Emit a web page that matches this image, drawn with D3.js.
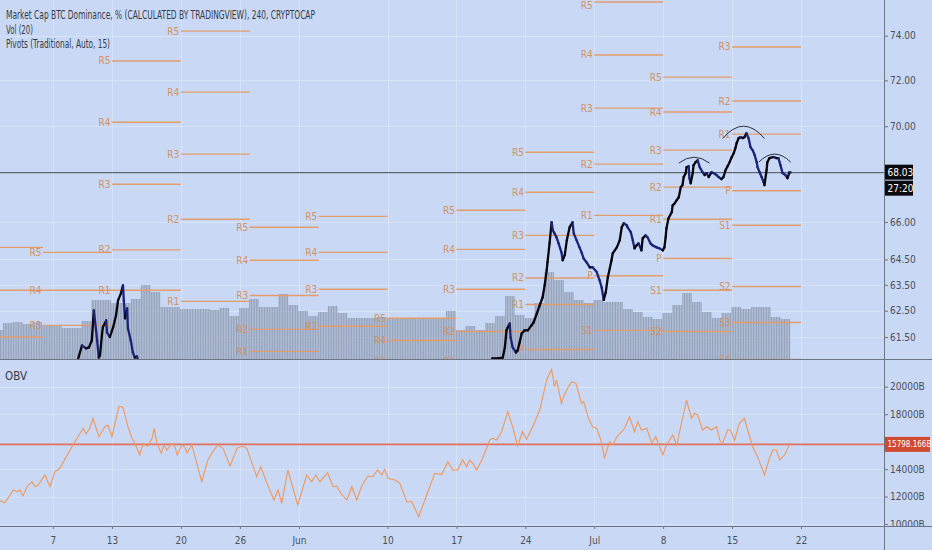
<!DOCTYPE html>
<html>
<head>
<meta charset="utf-8">
<script src="https://cdn.jsdelivr.net/npm/d3@7"></script>
<style>
html, body { margin: 0; padding: 0; background: #c9d9f5; }
svg { display: block; }
text { font-family: "Liberation Sans Narrow", "DejaVu Sans Condensed", "Roboto Condensed", sans-serif; }
</style>
</head>
<body>
<div id="chart"></div>
<script>

// ---- data ----
const xTickDates = ["2019-05-07", "2019-05-13", "2019-05-20", "2019-05-26", "2019-06-01", "2019-06-10",
    "2019-06-17", "2019-06-24", "2019-07-01", "2019-07-08", "2019-07-15", "2019-07-22"];
const xTickLabels = ["7", "13", "20", "26", "Jun", "10", "17", "24", "Jul", "8", "15", "22"];
const priceTicks = [61.5, 62.5, 63.5, 64.5, 66, 70, 72, 74];
const obvTicks = [10000, 12000, 14000, 18000, 20000];

const lastPrice = 68.03;
const countdown = "27:20";
const lastObv = 15798.166;

// daily volume (arbitrary units), each day drawn as six 4h bars
const volumeStart = "2019-05-01";
const dailyVolume = [29, 36, 37, 35, 37, 34, 33, 31, 31, 38, 59, 59, 56, 56, 60, 74, 67, 52, 52, 50,
    50, 50, 49, 51, 43, 51, 60, 52, 52, 65, 54, 48, 43, 47, 53, 46, 41, 41, 41, 42,
    41, 40, 41, 41, 40, 41, 48, 29, 33, 29, 36, 43, 63, 44, 41, 56, 87, 79, 67, 59,
    56, 59, 57, 57, 50, 47, 42, 40, 46, 54, 66, 57, 47, 41, 46, 52, 50, 52, 52, 42, 40];

// weekly pivots (Traditional), null where the level is out of view
const pivotWeeks = ["2019-04-29", "2019-05-06", "2019-05-13", "2019-05-20", "2019-05-27", "2019-06-03",
    "2019-06-10", "2019-06-17", "2019-06-24", "2019-07-01", "2019-07-08", "2019-07-15"];
const pivotR5 = [64.98, 64.78, 72.86, 74.21, 65.79, 66.23, 62.21, 66.48, 68.89, 75.55, 72.14, null];
const pivotR4 = [63.29, 63.29, 70.17, 71.48, 64.47, 64.78, 61.37, 64.90, 67.22, 73.13, 70.61, null];
const pivotR3 = [61.50, 61.94, 67.55, 68.81, 63.09, 63.33, 60.58, 63.33, 65.46, 70.78, 68.98, 73.49];
const pivotR2 = [null, null, 64.88, 66.11, 61.79, 61.91, null, 61.71, 63.77, 68.39, 67.43, 71.09];
const pivotR1 = [null, null, 63.29, 62.86, 60.96, null, null, 60.58, 62.74, 66.27, 66.11, 69.66];
const pivotP  = [null, null, null, null, null, null, null, null, 61.03, 63.86, 64.54, 67.28];
const pivotS1 = [null, null, null, null, null, null, null, null, null, 61.75, 63.29, 65.87];
const pivotS2 = [null, null, null, null, null, null, null, null, null, null, 61.71, 63.44];
const pivotS3 = [null, null, null, null, null, null, null, null, null, null, null, 62.05];
const pivotS4 = [null, null, null, null, null, null, null, null, null, null, null, 60.66];

// BTC dominance, 4h closes where the price is inside the visible range
const priceMay = [
    ["2019-05-09T11:00", 60.54], ["2019-05-09T23:00", 61.18], ["2019-05-10T09:00", 61.07],
    ["2019-05-10T16:00", 61.11], ["2019-05-10T23:00", 61.37], ["2019-05-11T02:00", 62.05],
    ["2019-05-11T04:00", 62.51], ["2019-05-11T12:00", 61.37], ["2019-05-11T16:00", 60.73],
    ["2019-05-11T19:00", 60.81], ["2019-05-12T00:00", 61.64], ["2019-05-12T02:00", 61.87],
    ["2019-05-12T10:00", 62.13], ["2019-05-12T12:00", 61.67], ["2019-05-12T19:00", 61.50],
    ["2019-05-13T03:00", 61.87], ["2019-05-13T10:00", 62.32], ["2019-05-13T15:00", 62.90],
    ["2019-05-13T22:00", 63.17], ["2019-05-14T03:00", 63.48], ["2019-05-14T05:00", 62.90],
    ["2019-05-14T08:00", 62.21], ["2019-05-14T13:00", 62.59], ["2019-05-14T15:00", 61.83],
    ["2019-05-14T22:00", 61.37], ["2019-05-15T03:00", 60.92], ["2019-05-15T08:00", 60.73],
    ["2019-05-15T13:00", 60.77], ["2019-05-15T18:00", 60.50]
];

const priceJune = [
    ["2019-06-20T09:00", 60.50], ["2019-06-20T16:00", 60.70], ["2019-06-21T05:00", 60.70],
    ["2019-06-21T17:00", 60.73], ["2019-06-21T22:00", 61.11], ["2019-06-22T02:00", 61.75],
    ["2019-06-22T05:00", 61.86], ["2019-06-22T10:00", 62.01], ["2019-06-22T12:00", 61.48],
    ["2019-06-22T17:00", 61.11], ["2019-06-23T01:00", 60.92], ["2019-06-23T05:00", 60.99],
    ["2019-06-23T10:00", 61.29], ["2019-06-23T15:00", 61.63], ["2019-06-23T22:00", 61.75],
    ["2019-06-24T06:00", 61.75], ["2019-06-24T15:00", 61.94], ["2019-06-24T20:00", 62.05],
    ["2019-06-25T04:00", 62.40], ["2019-06-25T11:00", 62.71], ["2019-06-25T18:00", 63.01],
    ["2019-06-25T23:00", 63.48], ["2019-06-26T04:00", 64.07], ["2019-06-26T06:00", 64.39],
    ["2019-06-26T11:00", 65.14], ["2019-06-26T16:00", 65.99], ["2019-06-26T19:00", 65.67],
    ["2019-06-26T23:00", 65.54], ["2019-06-27T04:00", 65.38], ["2019-06-27T09:00", 65.14],
    ["2019-06-27T16:00", 64.78], ["2019-06-27T19:00", 64.47], ["2019-06-28T00:00", 64.67],
    ["2019-06-28T05:00", 65.26], ["2019-06-28T12:00", 65.79], ["2019-06-28T19:00", 65.99],
    ["2019-06-28T22:00", 65.54], ["2019-06-29T05:00", 65.26], ["2019-06-29T12:00", 64.98],
    ["2019-06-29T17:00", 64.78], ["2019-06-29T22:00", 64.54], ["2019-06-30T05:00", 64.39],
    ["2019-06-30T13:00", 64.19], ["2019-06-30T20:00", 64.19], ["2019-07-01T06:00", 64.00],
    ["2019-07-01T13:00", 63.68], ["2019-07-01T18:00", 63.40], ["2019-07-01T23:00", 62.92],
    ["2019-07-02T04:00", 63.21], ["2019-07-02T09:00", 63.79], ["2019-07-02T18:00", 64.47],
    ["2019-07-02T21:00", 64.74], ["2019-07-03T07:00", 64.98], ["2019-07-03T14:00", 65.26],
    ["2019-07-03T19:00", 65.79], ["2019-07-04T00:00", 65.95], ["2019-07-04T07:00", 65.87],
    ["2019-07-04T09:00", 65.79], ["2019-07-04T17:00", 65.59], ["2019-07-04T22:00", 65.26],
    ["2019-07-05T02:00", 64.94], ["2019-07-05T07:00", 65.06], ["2019-07-05T12:00", 65.14],
    ["2019-07-05T19:00", 64.86], ["2019-07-05T22:00", 65.34], ["2019-07-06T05:00", 65.46],
    ["2019-07-06T10:00", 65.38], ["2019-07-06T17:00", 65.14], ["2019-07-06T22:00", 65.06],
    ["2019-07-07T08:00", 64.98], ["2019-07-07T15:00", 64.94], ["2019-07-07T23:00", 64.86],
    ["2019-07-08T03:00", 64.98], ["2019-07-08T06:00", 65.38], ["2019-07-08T08:00", 65.75],
    ["2019-07-08T13:00", 66.15], ["2019-07-08T21:00", 66.40], ["2019-07-08T23:00", 66.68],
    ["2019-07-09T04:00", 66.76], ["2019-07-09T09:00", 66.89], ["2019-07-09T14:00", 67.01],
    ["2019-07-09T19:00", 67.43], ["2019-07-09T23:00", 67.51], ["2019-07-10T02:00", 67.85],
    ["2019-07-10T07:00", 68.01], ["2019-07-10T09:00", 68.26], ["2019-07-10T14:00", 68.30],
    ["2019-07-10T16:00", 67.80], ["2019-07-10T19:00", 67.59], ["2019-07-11T00:00", 68.01],
    ["2019-07-11T02:00", 68.34], ["2019-07-11T07:00", 68.47], ["2019-07-11T12:00", 68.55],
    ["2019-07-11T17:00", 68.26], ["2019-07-12T00:00", 68.05], ["2019-07-12T05:00", 67.93],
    ["2019-07-12T10:00", 68.01], ["2019-07-12T15:00", 67.85], ["2019-07-12T22:00", 68.05],
    ["2019-07-13T03:00", 68.01], ["2019-07-13T10:00", 67.93], ["2019-07-13T15:00", 67.85],
    ["2019-07-13T22:00", 67.76], ["2019-07-14T03:00", 67.85], ["2019-07-14T08:00", 68.13],
    ["2019-07-14T13:00", 68.30], ["2019-07-14T18:00", 68.47], ["2019-07-14T23:00", 68.68],
    ["2019-07-15T04:00", 68.85], ["2019-07-15T08:00", 69.06], ["2019-07-15T11:00", 69.27],
    ["2019-07-15T16:00", 69.49], ["2019-07-15T21:00", 69.53], ["2019-07-16T02:00", 69.49],
    ["2019-07-16T06:00", 69.53], ["2019-07-16T11:00", 69.70], ["2019-07-16T16:00", 69.49],
    ["2019-07-16T21:00", 69.10], ["2019-07-17T02:00", 68.98], ["2019-07-17T07:00", 68.77],
    ["2019-07-17T12:00", 68.47], ["2019-07-17T14:00", 68.26], ["2019-07-17T19:00", 68.05],
    ["2019-07-18T00:00", 67.85], ["2019-07-18T05:00", 67.63], ["2019-07-18T07:00", 67.51],
    ["2019-07-18T12:00", 68.13], ["2019-07-18T14:00", 68.47], ["2019-07-18T19:00", 68.64],
    ["2019-07-19T03:00", 68.68], ["2019-07-19T07:00", 68.68], ["2019-07-19T12:00", 68.64],
    ["2019-07-19T17:00", 68.64], ["2019-07-19T22:00", 68.34], ["2019-07-20T03:00", 68.01],
    ["2019-07-20T10:00", 67.93], ["2019-07-20T15:00", 67.80], ["2019-07-20T20:00", 68.05],
    ["2019-07-20T23:00", 68.03]
];

// On Balance Volume, in billions
const obvSeries = [
    ["2019-05-01T08:00", 11800], ["2019-05-02T03:00", 11551], ["2019-05-02T16:00", 12112],
    ["2019-05-02T23:00", 12476], ["2019-05-03T09:00", 12352], ["2019-05-03T16:00", 12476],
    ["2019-05-03T23:00", 12039], ["2019-05-04T09:00", 12717], ["2019-05-04T21:00", 13081],
    ["2019-05-05T05:00", 12717], ["2019-05-05T12:00", 12840], ["2019-05-06T05:00", 13569],
    ["2019-05-06T17:00", 12717], ["2019-05-07T05:00", 13809], ["2019-05-07T17:00", 14056],
    ["2019-05-09T01:00", 15754], ["2019-05-10T02:00", 16970], ["2019-05-10T09:00", 16555],
    ["2019-05-10T18:00", 16970], ["2019-05-11T02:00", 17698], ["2019-05-11T16:00", 16358],
    ["2019-05-12T07:00", 17086], ["2019-05-12T14:00", 17210], ["2019-05-13T00:00", 16358],
    ["2019-05-13T17:00", 18543], ["2019-05-14T01:00", 18543], ["2019-05-14T05:00", 18303],
    ["2019-05-14T15:00", 17086], ["2019-05-15T01:00", 16242], ["2019-05-15T08:00", 15877],
    ["2019-05-15T13:00", 15513], ["2019-05-15T20:00", 15025], ["2019-05-16T04:00", 15877],
    ["2019-05-16T09:00", 15754], ["2019-05-16T16:00", 15681], ["2019-05-17T02:00", 16242],
    ["2019-05-17T07:00", 16970], ["2019-05-17T14:00", 15877], ["2019-05-18T00:00", 15149],
    ["2019-05-18T07:00", 15754], ["2019-05-18T14:00", 15389], ["2019-05-19T02:00", 15877],
    ["2019-05-19T10:00", 15630], ["2019-05-19T15:00", 15025], ["2019-05-20T03:00", 15754],
    ["2019-05-20T10:00", 15586], ["2019-05-20T15:00", 15193], ["2019-05-21T03:00", 15754],
    ["2019-05-21T15:00", 14420], ["2019-05-22T03:00", 13081], ["2019-05-22T18:00", 14661],
    ["2019-05-23T06:00", 15266], ["2019-05-23T18:00", 15754], ["2019-05-24T07:00", 15513],
    ["2019-05-25T00:00", 14224], ["2019-05-25T17:00", 15513], ["2019-05-26T05:00", 15681],
    ["2019-05-26T17:00", 15513], ["2019-05-27T00:00", 14902], ["2019-05-27T17:00", 13445],
    ["2019-05-28T03:00", 14173], ["2019-05-28T18:00", 12964], ["2019-05-29T11:00", 11748],
    ["2019-05-29T21:00", 12476], ["2019-05-30T06:00", 11508], ["2019-05-30T21:00", 13933],
    ["2019-05-31T21:00", 11384], ["2019-06-01T19:00", 13569], ["2019-06-02T07:00", 13081],
    ["2019-06-02T17:00", 13569], ["2019-06-03T03:00", 13081], ["2019-06-03T22:00", 13736],
    ["2019-06-04T11:00", 12717], ["2019-06-04T20:00", 12768], ["2019-06-05T06:00", 12236],
    ["2019-06-05T21:00", 11748], ["2019-06-06T09:00", 12717], ["2019-06-06T21:00", 11748],
    ["2019-06-07T09:00", 12768], ["2019-06-08T00:00", 13496], ["2019-06-08T12:00", 13445],
    ["2019-06-09T00:00", 13933], ["2019-06-09T10:00", 13569], ["2019-06-09T17:00", 13983],
    ["2019-06-10T01:00", 13328], ["2019-06-10T18:00", 13205], ["2019-06-11T06:00", 12964],
    ["2019-06-11T23:00", 11624], ["2019-06-12T11:00", 11624], ["2019-06-13T04:00", 10532],
    ["2019-06-13T19:00", 11748], ["2019-06-14T19:00", 13692], ["2019-06-15T12:00", 13600],
    ["2019-06-16T03:00", 14537], ["2019-06-16T15:00", 13933], ["2019-06-17T03:00", 13933],
    ["2019-06-17T15:00", 14661], ["2019-06-18T01:00", 14173], ["2019-06-18T08:00", 14661],
    ["2019-06-18T16:00", 14420], ["2019-06-19T01:00", 13933], ["2019-06-19T16:00", 14785],
    ["2019-06-20T09:00", 16118], ["2019-06-20T16:00", 16242], ["2019-06-21T02:00", 16118],
    ["2019-06-21T14:00", 16722], ["2019-06-22T05:00", 18179], ["2019-06-22T17:00", 17086],
    ["2019-06-23T05:00", 15681], ["2019-06-23T17:00", 16722], ["2019-06-24T03:00", 16169],
    ["2019-06-24T18:00", 17086], ["2019-06-25T11:00", 18303], ["2019-06-26T04:00", 20488],
    ["2019-06-26T16:00", 21267], ["2019-06-26T23:00", 20000], ["2019-06-27T04:00", 20488],
    ["2019-06-27T16:00", 18791], ["2019-06-27T21:00", 19271], ["2019-06-28T07:00", 19883],
    ["2019-06-28T17:00", 20364], ["2019-06-29T03:00", 20247], ["2019-06-29T17:00", 18791],
    ["2019-06-29T22:00", 18907], ["2019-06-30T10:00", 17698], ["2019-06-30T20:00", 17086],
    ["2019-07-01T06:00", 16970], ["2019-07-01T16:00", 16118], ["2019-07-02T01:00", 14785],
    ["2019-07-02T13:00", 15994], ["2019-07-02T21:00", 15754], ["2019-07-03T07:00", 16358],
    ["2019-07-03T19:00", 16722], ["2019-07-04T02:00", 16970], ["2019-07-04T14:00", 17815],
    ["2019-07-05T02:00", 16722], ["2019-07-05T10:00", 17451], ["2019-07-05T19:00", 16846],
    ["2019-07-06T08:00", 16970], ["2019-07-06T20:00", 15877], ["2019-07-07T06:00", 16358],
    ["2019-07-07T23:00", 15025], ["2019-07-08T08:00", 15754], ["2019-07-08T23:00", 16482],
    ["2019-07-09T09:00", 15754], ["2019-07-10T09:00", 19031], ["2019-07-10T21:00", 17698],
    ["2019-07-11T05:00", 18062], ["2019-07-11T12:00", 17939], ["2019-07-12T00:00", 16846],
    ["2019-07-12T10:00", 17086], ["2019-07-12T22:00", 16846], ["2019-07-13T10:00", 17086],
    ["2019-07-13T18:00", 16118], ["2019-07-14T01:00", 15877], ["2019-07-14T13:00", 16846],
    ["2019-07-14T20:00", 16846], ["2019-07-15T06:00", 16118], ["2019-07-15T18:00", 17334],
    ["2019-07-16T06:00", 17698], ["2019-07-16T14:00", 16846], ["2019-07-17T02:00", 15630],
    ["2019-07-17T14:00", 14902], ["2019-07-18T07:00", 13569], ["2019-07-18T19:00", 14785],
    ["2019-07-19T03:00", 15389], ["2019-07-19T12:00", 15389], ["2019-07-19T20:00", 14661],
    ["2019-07-20T08:00", 15025], ["2019-07-20T20:00", 15798.166]
];

// head & shoulders arcs drawn on the chart: [start, end, base price, peak price]
const shoulderArcs = [
    ["2019-07-09T14:00", "2019-07-12T17:00", 68.43, 68.68],
    ["2019-07-14T01:00", "2019-07-18T07:00", 69.47, 70.00],
    ["2019-07-17T17:00", "2019-07-20T23:00", 68.47, 68.81]
];

// ---- layout ----
const width = 932, height = 550;
const plotRight = 884;
const mainBottom = 359, obvTop = 360, obvBottom = 526;

const bg = "#c9d9f5", grid = "#d7e3f8", axisLine = "#6d7685", axisText = "#4a4f5a";
const pivotColor = "#e39d6b", pivotText = "#d3925f";

const parseTime = d3.utcParse("%Y-%m-%dT%H:%M");
const parseDay = d3.utcParse("%Y-%m-%d");

const x = d3.scaleUtc()
    .domain([parseDay("2019-05-06"), parseDay("2019-07-22")])
    .range([43, 801]);

const y = d3.scaleLog()
    .domain([61.5, 74])
    .range([337, 35.7]);

const yObv = d3.scaleLinear()
    .domain([10000, 20000])
    .range([524, 386.7]);

const yVol = d3.scaleLinear()
    .domain([0, 100])
    .range([mainBottom, mainBottom - 100]);

const svg = d3.select("#chart")
    .append("svg")
    .attr("width", width)
    .attr("height", height);

svg.append("rect").attr("width", width).attr("height", height).attr("fill", bg);

const defs = svg.append("defs");
defs.append("clipPath").attr("id", "mainClip")
    .append("rect").attr("x", 0).attr("y", 0).attr("width", plotRight).attr("height", mainBottom);
defs.append("clipPath").attr("id", "obvClip")
    .append("rect").attr("x", 0).attr("y", obvTop).attr("width", plotRight).attr("height", obvBottom - obvTop);

// grid lines
const tickDates = xTickDates.map(parseDay);
svg.append("g").selectAll("line")
    .data(tickDates)
    .join("line")
    .attr("x1", d => Math.round(x(d)) + 0.5).attr("x2", d => Math.round(x(d)) + 0.5)
    .attr("y1", 0).attr("y2", obvBottom)
    .attr("stroke", grid);

svg.append("g").selectAll("line")
    .data(priceTicks)
    .join("line")
    .attr("x1", 0).attr("x2", plotRight)
    .attr("y1", d => Math.round(y(d)) + 0.5).attr("y2", d => Math.round(y(d)) + 0.5)
    .attr("stroke", grid);

svg.append("g").selectAll("line")
    .data(obvTicks)
    .join("line")
    .attr("x1", 0).attr("x2", plotRight)
    .attr("y1", d => Math.round(yObv(d)) + 0.5).attr("y2", d => Math.round(yObv(d)) + 0.5)
    .attr("stroke", grid);

const main = svg.append("g").attr("clip-path", "url(#mainClip)");

// volume bars
const volStart = parseDay(volumeStart);
const volBars = [];
dailyVolume.forEach((v, i) => {
    const day = d3.utcDay.offset(volStart, i);
    for (let k = 0; k < 6; k++) volBars.push({t: d3.utcHour.offset(day, 4 * k), v: v});
});
main.append("g").selectAll("rect")
    .data(volBars)
    .join("rect")
    .attr("x", d => x(d.t) - 0.6)
    .attr("y", d => yVol(d.v))
    .attr("width", 1.25)
    .attr("height", d => yVol(0) - yVol(d.v))
    .attr("fill", "#96a3ba");

// pivots
const levelNames = ["R5", "R4", "R3", "R2", "R1", "P", "S1", "S2", "S3", "S4"];
const levelValues = [pivotR5, pivotR4, pivotR3, pivotR2, pivotR1, pivotP, pivotS1, pivotS2, pivotS3, pivotS4];
const pivotSegs = [];
pivotWeeks.forEach((w, i) => {
    levelNames.forEach((name, j) => {
        const v = levelValues[j][i];
        if (v != null) pivotSegs.push({start: parseDay(w), name: name, v: v});
    });
});

main.append("g").selectAll("line")
    .data(pivotSegs)
    .join("line")
    .attr("x1", d => x(d.start))
    .attr("x2", d => x(d3.utcDay.offset(d.start, 7)))
    .attr("y1", d => y(d.v))
    .attr("y2", d => y(d.v))
    .attr("stroke", pivotColor)
    .attr("stroke-width", 1.4);

// labels sit left of each segment; the first week's ones fall off the left edge
main.append("g").selectAll("text")
    .data(pivotSegs.filter(d => x(d.start) > 20))
    .join("text")
    .attr("x", d => x(d.start) - 1.5)
    .attr("y", d => Math.max(y(d.v), 5))
    .attr("dy", "0.35em")
    .attr("text-anchor", "end")
    .attr("font-size", 10)
    .attr("fill", pivotText)
    .text(d => d.name);

// last price line
main.append("line")
    .attr("x1", 0).attr("x2", plotRight)
    .attr("y1", y(lastPrice)).attr("y2", y(lastPrice))
    .attr("stroke", "#474b55")
    .attr("stroke-width", 1);

// price, up moves black, down moves navy
function drawPrice(series) {
    main.append("g").selectAll("line")
        .data(d3.pairs(series))
        .join("line")
        .attr("x1", d => x(parseTime(d[0][0])))
        .attr("y1", d => y(d[0][1]))
        .attr("x2", d => x(parseTime(d[1][0])))
        .attr("y2", d => y(d[1][1]))
        .attr("stroke", d => d[1][1] < d[0][1] ? "#1b2377" : "#05060c")
        .attr("stroke-width", 2.3)
        .attr("stroke-linecap", "round");
}
drawPrice(priceMay);
drawPrice(priceJune);

// head & shoulders annotation
main.append("g").selectAll("path")
    .data(shoulderArcs)
    .join("path")
    .attr("d", d => {
        const x0 = x(parseTime(d[0])), x1 = x(parseTime(d[1]));
        const yb = y(d[2]), yp = y(d[3]);
        const p = d3.path();
        p.moveTo(x0, yb);
        p.quadraticCurveTo((x0 + x1) / 2, 2 * yp - yb, x1, yb);
        return p.toString();
    })
    .attr("fill", "none")
    .attr("stroke", "#2b2f3a")
    .attr("stroke-width", 1);

// legend texts
const legend = [
    {t: "Market Cap BTC Dominance, % (CALCULATED BY TRADINGVIEW), 240, CRYPTOCAP", y: 19, w: 309, s: 12},
    {t: "Vol (20)", y: 33.5, w: 27, s: 11.5},
    {t: "Pivots (Traditional, Auto, 15)", y: 48, w: 104, s: 11.5}
];
svg.append("g").selectAll("text")
    .data(legend)
    .join("text")
    .attr("x", 6)
    .attr("y", d => d.y)
    .attr("font-size", d => d.s)
    .attr("textLength", d => d.w)
    .attr("lengthAdjust", "spacingAndGlyphs")
    .attr("fill", "#363a45")
    .text(d => d.t);

// OBV pane
const obvG = svg.append("g").attr("clip-path", "url(#obvClip)");

obvG.append("line")
    .attr("x1", 0).attr("x2", plotRight)
    .attr("y1", yObv(lastObv)).attr("y2", yObv(lastObv))
    .attr("stroke", "#e0705f")
    .attr("stroke-width", 1.6);

obvG.append("path")
    .datum(obvSeries)
    .attr("fill", "none")
    .attr("stroke", "#f0975a")
    .attr("stroke-width", 1.1)
    .attr("d", d3.line().x(d => x(parseTime(d[0]))).y(d => yObv(d[1])));

svg.append("text")
    .attr("x", 5)
    .attr("y", 379.5)
    .attr("font-size", 11.5)
    .attr("fill", "#363a45")
    .text("OBV");

// pane separator
svg.append("line")
    .attr("x1", 0).attr("x2", width)
    .attr("y1", mainBottom + 0.5).attr("y2", mainBottom + 0.5)
    .attr("stroke", axisLine);

// price and OBV axes
const priceAxis = svg.append("g")
    .attr("transform", `translate(${plotRight},0)`)
    .call(d3.axisRight(y).tickValues(priceTicks).tickFormat(d3.format(".2f")).tickSize(4).tickPadding(2));

const obvAxis = svg.append("g")
    .attr("transform", `translate(${plotRight},0)`)
    .call(d3.axisRight(yObv).tickValues(obvTicks).tickFormat(d => d + "B").tickSize(4).tickPadding(2));

[priceAxis, obvAxis].forEach(a => {
    a.select(".domain").remove();
    a.selectAll("line").attr("stroke", axisLine);
    a.selectAll("text").attr("fill", axisText).attr("font-size", 10)
        .attr("font-family", "'Liberation Sans Narrow', 'DejaVu Sans Condensed', sans-serif");
});

// time axis area (also hides the lower half of the 10000B label, as in the original)
svg.append("rect")
    .attr("x", 0).attr("y", obvBottom)
    .attr("width", width).attr("height", height - obvBottom)
    .attr("fill", bg);

const timeAxis = svg.append("g")
    .attr("transform", `translate(0,${obvBottom})`)
    .call(d3.axisBottom(x).tickValues(tickDates).tickFormat((d, i) => xTickLabels[i]).tickSize(3).tickPadding(8));
timeAxis.select(".domain").remove();
timeAxis.selectAll("line").attr("stroke", axisLine);
timeAxis.selectAll("text").attr("fill", axisText).attr("font-size", 10)
    .attr("font-family", "'Liberation Sans Narrow', 'DejaVu Sans Condensed', sans-serif");

svg.append("line")
    .attr("x1", 0).attr("x2", width)
    .attr("y1", obvBottom + 0.5).attr("y2", obvBottom + 0.5)
    .attr("stroke", axisLine);

svg.append("line")
    .attr("x1", plotRight + 0.5).attr("x2", plotRight + 0.5)
    .attr("y1", 0).attr("y2", height)
    .attr("stroke", axisLine);

// axis value labels
function axisLabel(yc, text, fill, w, fs) {
    svg.append("rect")
        .attr("x", plotRight + 1).attr("y", yc - 7.5)
        .attr("width", w).attr("height", 15)
        .attr("fill", fill);
    svg.append("text")
        .attr("x", plotRight + 3.5).attr("y", yc)
        .attr("dy", "0.35em")
        .attr("font-size", fs)
        .attr("fill", "#ffffff")
        .text(text);
}
axisLabel(y(lastPrice) - 0.5, d3.format(".2f")(lastPrice), "#0b0b0f", 28, 10);
axisLabel(y(lastPrice) + 15.5, countdown, "#0b0b0f", 28, 10);
axisLabel(yObv(lastObv), lastObv + "B", "#cf4a2e", 45, 8);

</script>
</body>
</html>
